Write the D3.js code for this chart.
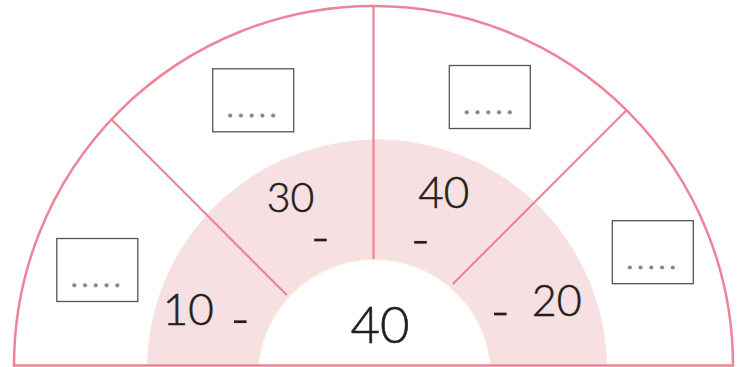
<!DOCTYPE html>
<html>
<head>
<meta charset="utf-8">
<script src="https://cdn.jsdelivr.net/npm/d3@7"></script>
<style>
html,body{margin:0;padding:0;background:#fff;}
svg{display:block;}
text{font-family:Lato, "Open Sans", sans-serif;fill:#231f20;font-weight:300;stroke:#231f20;stroke-width:0.55px;}
</style>
</head>
<body>
<svg id="chart" width="750" height="367"></svg>
<script>
// ---- data ----
const centerValue = 40;
const sectorValues = [10, 30, 40, 20];          // left -> right
const placeholderDots = [0, 1, 2, 3, 4];         // five dots per answer box
const answerBoxes = ["a", "b", "c", "d"];

// ---- layout (separate from data) ----
const W = 750, H = 367;
const cx = 373.5, cy = 365.5;
const Rout = 359.5;
const ring = {dx: 3.5, dy: 4, r: 230};
const inner = {dx: 1, dy: 10.5, r: 116.6};
const colPink = "#ef8499", colFill = "#f6e0e1", colInnerStroke = "#fbefcf";
// dividers in polar coords (deg, math convention)
const dividers = [
  {a1: 136.8, r1: 360, a2: 140.9, r2: 111.8},
  {a1: 90, r1: 358.5, a2: 90, r2: 106.5},
  {a1: 45.26, r1: 358.3, a2: 45.8, r2: 113.6}
];
// positions relative to centre
const numPos = [
  {dx: -185.2, dy: -40.5, size: 44},
  {dx: -83, dy: -153.5, size: 41},
  {dx: 70.2, dy: -157.2, size: 44},
  {dx: 183.2, dy: -49.5, size: 43}
];
const dashPos = [
  {dx: -133.2, dy: -43.8},
  {dx: -53, dy: -125.5},
  {dx: 47, dy: -123.2},
  {dx: 126.8, dy: -51.5}
];
const boxPos = [
  {dx: -276.2, dy: -95.5},
  {dx: -120.3, dy: -265.2},
  {dx: 116.3, dy: -268.5},
  {dx: 279.3, dy: -113.3}
];
const boxW = 81, boxH = 63;

const svg = d3.select("#chart");
const rad = d => d * Math.PI / 180;
const px = (a, r) => cx + r * Math.cos(rad(a));
const py = (a, r) => cy - r * Math.sin(rad(a));

// pink ring (clipped at baseline)
svg.append("clipPath").attr("id", "top")
  .append("rect").attr("x", 0).attr("y", 0).attr("width", W).attr("height", cy);
svg.append("circle")
  .attr("cx", cx + ring.dx).attr("cy", cy + ring.dy).attr("r", ring.r)
  .attr("fill", colFill).attr("clip-path", "url(#top)");

// inner white circle
svg.append("circle")
  .attr("cx", cx + inner.dx).attr("cy", cy + inner.dy).attr("r", inner.r)
  .attr("fill", "#fff").attr("stroke", colInnerStroke).attr("stroke-width", 1.2);

// dividers
svg.selectAll("line.div").data(dividers).join("line")
  .attr("class", "div")
  .attr("x1", d => px(d.a1, d.r1)).attr("y1", d => py(d.a1, d.r1))
  .attr("x2", d => px(d.a2, d.r2)).attr("y2", d => py(d.a2, d.r2))
  .attr("stroke", colPink).attr("stroke-width", 2.2);

// outer semicircle
svg.append("path")
  .attr("d", `M${cx - Rout},${cy} A${Rout},${Rout} 0 0 1 ${cx + Rout},${cy} Z`)
  .attr("fill", "none").attr("stroke", colPink).attr("stroke-width", 2.5);

// numbers
svg.selectAll("text.num").data(sectorValues).join("text")
  .attr("class", "num")
  .attr("x", (d, i) => cx + numPos[i].dx).attr("y", (d, i) => cy + numPos[i].dy)
  .attr("text-anchor", "middle").attr("font-size", (d, i) => numPos[i].size)
  .text(d => d);

svg.append("text")
  .attr("x", cx + 6.5).attr("y", cy - 22.2)
  .attr("text-anchor", "middle").attr("font-size", 51)
  .text(centerValue);

// dashes
svg.selectAll("line.dash").data(sectorValues).join("line")
  .attr("class", "dash")
  .attr("x1", (d, i) => cx + dashPos[i].dx - 6.3).attr("x2", (d, i) => cx + dashPos[i].dx + 6.3)
  .attr("y1", (d, i) => cy + dashPos[i].dy).attr("y2", (d, i) => cy + dashPos[i].dy)
  .attr("stroke", "#231f20").attr("stroke-width", 2.7);

// answer boxes
const boxes = svg.selectAll("g.box").data(answerBoxes).join("g")
  .attr("class", "box")
  .attr("transform", (d, i) => `translate(${cx + boxPos[i].dx},${cy + boxPos[i].dy})`);
boxes.append("rect")
  .attr("x", -boxW/2).attr("y", -boxH/2).attr("width", boxW).attr("height", boxH)
  .attr("fill", "#fff").attr("stroke", "#555").attr("stroke-width", 1.3);
const dotX = d3.scaleLinear().domain([0, 4]).range([-23, 20]);
boxes.selectAll("circle").data(placeholderDots).join("circle")
  .attr("cx", d => dotX(d)).attr("cy", 15.3).attr("r", 2.1)
  .attr("fill", "#8a8a8a");
</script>
</body>
</html>
